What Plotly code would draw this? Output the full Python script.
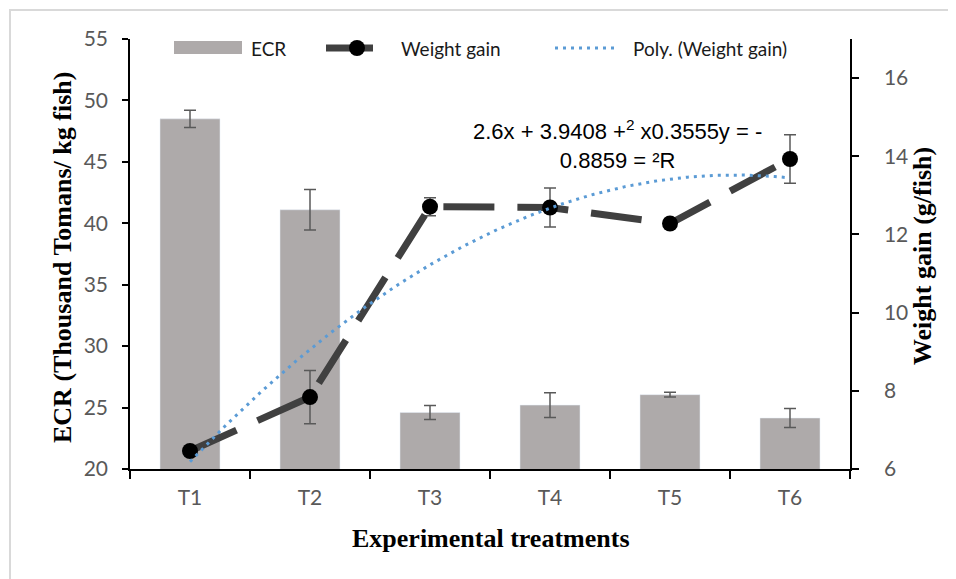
import numpy as np
import plotly.graph_objects as go

# ---- data ----
treatments = ["T1", "T2", "T3", "T4", "T5", "T6"]
ecr = [48.5, 41.1, 24.6, 25.2, 26.05, 24.15]
ecr_err = [0.7, 1.65, 0.57, 1.0, 0.19, 0.78]
weight_gain = [6.46, 7.84, 12.71, 12.69, 12.28, 13.93]
weight_err = [0.1, 0.68, 0.23, 0.5, 0.1, 0.62]
poly_coef = [-0.3555, 3.9408, 2.6]   # y = -0.3555x^2 + 3.9408x + 2.6
r2 = 0.8859

# page is rendered with an 8px body margin
OFF = 8
W, H = 956 - OFF, 579 - OFF
L, R, T, B = 122, 106, 31, 110
PW, PH = W - L - R, H - T - B

def px(x):          # page pixel -> paper
    return (x - OFF - L) / PW

def py(y):
    return (H - B - (y - OFF)) / PH

xpos = list(range(1, len(treatments) + 1))
xfit = np.linspace(1, len(treatments), 200)
yfit = np.polyval(poly_coef, xfit)

fig = go.Figure()
fig.add_trace(go.Bar(
    x=xpos, y=ecr, width=0.5, name="ECR",
    marker=dict(color="#AEAAAA"),
    error_y=dict(type="data", array=ecr_err, color="#595959", thickness=1.5, width=6),
    yaxis="y", showlegend=False,
))
fig.add_trace(go.Scatter(
    x=xpos, y=weight_gain, name="Weight gain", mode="lines+markers",
    line=dict(color="#404040", width=7, dash="51px,23px"),
    marker=dict(color="black", size=16),
    error_y=dict(type="data", array=weight_err, color="#595959", thickness=1.5, width=6),
    yaxis="y2", showlegend=False,
))
fig.add_trace(go.Scatter(
    x=xfit, y=yfit, name="Poly. (Weight gain)", mode="lines",
    line=dict(color="#5B9BD5", width=3, dash="3px,5px"),
    yaxis="y2", showlegend=False,
))

tickfont = dict(family="Lato", size=21, color="#595959")
fig.update_layout(
    width=W, height=H,
    margin=dict(l=L, r=R, t=T, b=B, autoexpand=False),
    paper_bgcolor="white", plot_bgcolor="white",
    showlegend=False,
    xaxis=dict(
        range=[0.5, 6.5], tickvals=xpos, ticktext=treatments, ticks="",
        showline=True, linecolor="black", linewidth=1.5, showgrid=False, zeroline=False,
        tickfont=tickfont, ticklabelstandoff=9,
        minor=dict(ticks="outside", tick0=0.5, dtick=1, ticklen=8, tickcolor="black", tickwidth=1.5, showgrid=False),
    ),
    yaxis=dict(
        range=[20, 55], dtick=5, ticks="outside", ticklen=6, tickcolor="black", tickwidth=1.5,
        showline=True, linecolor="black", linewidth=1.5, showgrid=False, zeroline=False,
        tickfont=tickfont, ticklabelstandoff=10,
    ),
    yaxis2=dict(
        range=[6, 17], tickvals=[6, 8, 10, 12, 14, 16], overlaying="y", side="right",
        ticks="outside", ticklen=7, tickcolor="black", tickwidth=1.5,
        showline=True, linecolor="black", linewidth=1.5, showgrid=False, zeroline=False,
        tickfont=tickfont, ticklabelstandoff=21,
    ),
)

shapes = []
# chart border
shapes.append(dict(type="line", xref="paper", yref="paper", x0=px(9), x1=px(960), y0=py(10), y1=py(10),
                   line=dict(color="#d9d9d9", width=2)))
shapes.append(dict(type="line", xref="paper", yref="paper", x0=px(10), x1=px(10), y0=py(10), y1=py(590),
                   line=dict(color="#d9d9d9", width=2)))
# custom legend
ly = 48
shapes.append(dict(type="rect", xref="paper", yref="paper", x0=px(174), x1=px(242), y0=py(54), y1=py(41),
                   fillcolor="#AEAAAA", line=dict(width=0)))
shapes.append(dict(type="line", xref="paper", yref="paper", x0=px(326), x1=px(373), y0=py(ly), y1=py(ly),
                   line=dict(color="#404040", width=7)))
shapes.append(dict(type="circle", xref="paper", yref="paper", x0=px(349), x1=px(365), y0=py(ly + 8), y1=py(ly - 8),
                   fillcolor="black", line=dict(width=0)))
shapes.append(dict(type="line", xref="paper", yref="paper", x0=px(555), x1=px(618), y0=py(ly), y1=py(ly),
                   line=dict(color="#5B9BD5", width=3, dash="3px,5px")))
fig.update_layout(shapes=shapes)

legfont = dict(family="Lato", size=19, color="#1a1a1a")
annotations = [
    dict(text="ECR", x=px(249), y=py(ly), xanchor="left", yanchor="middle"),
    dict(text="Weight gain", x=px(399), y=py(ly), xanchor="left", yanchor="middle"),
    dict(text="Poly. (Weight gain)", x=px(631), y=py(ly), xanchor="left", yanchor="middle"),
]
annotations = [dict(a, xref="paper", yref="paper", showarrow=False, font=legfont) for a in annotations]

eq_text = (f"{poly_coef[2]}x + {poly_coef[1]:.4f} +<sup>2</sup> x{-poly_coef[0]:.4f}y = -"
           f"<br>{r2:.4f} = ²R")
annotations.append(dict(text=eq_text, x=px(617), y=py(144.5), xref="paper", yref="paper",
                        xanchor="center", yanchor="middle", align="center", showarrow=False,
                        font=dict(family="Liberation Sans", size=22, color="black")))

titlefont = dict(family="Liberation Serif", size=26, color="black")
annotations.append(dict(text="<b>Experimental treatments</b>", x=px(491), y=py(538), xref="paper", yref="paper",
                        xanchor="center", yanchor="middle", showarrow=False, font=titlefont))
annotations.append(dict(text="<b>ECR (Thousand Tomans/ kg fish)</b>", x=px(62), y=py(258), xref="paper",
                        yref="paper", xanchor="center", yanchor="middle", textangle=-90, showarrow=False,
                        font=titlefont))
annotations.append(dict(text="<b>Weight gain (g/fish)</b>", x=px(922), y=py(256), xref="paper",
                        yref="paper", xanchor="center", yanchor="middle", textangle=-90, showarrow=False,
                        font=titlefont))
fig.update_layout(annotations=annotations)

fig.write_html("out.html")
